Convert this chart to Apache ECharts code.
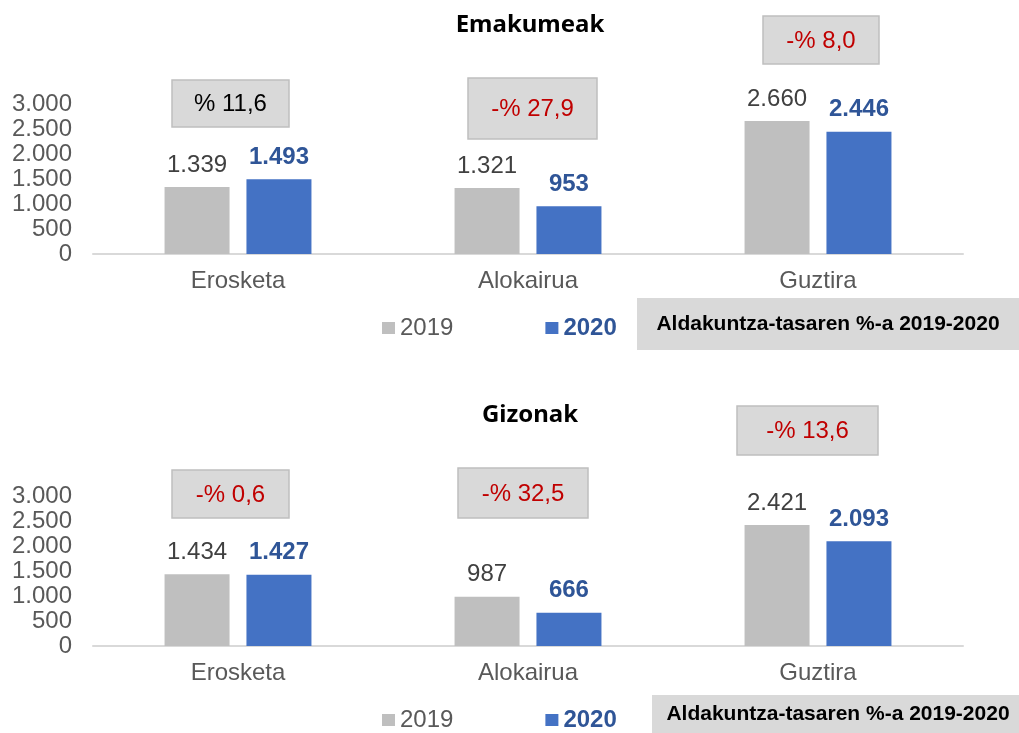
<!DOCTYPE html>
<html>
<head>
<meta charset="utf-8">
<script src="https://cdn.jsdelivr.net/npm/echarts@6/dist/echarts.min.js"></script>
<style>
  html, body { margin: 0; padding: 0; background: #fff; }
  #chart { width: 1019px; height: 733px; }
</style>
</head>
<body>
<div id="chart"></div>
<script>
// datos
const categories = ['Erosketa', 'Alokairua', 'Guztira'];
const women2019 = [1339, 1321, 2660];
const women2020 = [1493, 953, 2446];
const men2019 = [1434, 987, 2421];
const men2020 = [1427, 666, 2093];
const womenChange = [11.6, -27.9, -8.0];
const menChange = [-0.6, -32.5, -13.6];
const yTicks = [0, 500, 1000, 1500, 2000, 2500, 3000];

const FONT = '"Liberation Sans", Arial, sans-serif';

// cajas de variación: [x, y, w, h]
const womenBoxes = [[172, 80, 117, 47], [468, 78, 129, 61], [763, 16, 116, 48]];
const menBoxes = [[172, 470, 117, 48], [458, 468, 130, 50], [737, 406, 141, 49]];

const fmt = v => String(v).replace(/\B(?=(\d{3})+(?!\d))/g, '.');
const fmtPct = v => (v < 0 ? '-% ' : '% ') + Math.abs(v).toFixed(1).replace('.', ',');

function changeBoxes(boxes, values) {
    return boxes.map((b, i) => ({
        type: 'group',
        children: [
            {
                type: 'rect',
                shape: {x: b[0], y: b[1], width: b[2], height: b[3]},
                style: {fill: '#d9d9d9', stroke: '#bfbfbf', lineWidth: 1.5},
            },
            {
                type: 'text',
                x: b[0] + b[2] / 2,
                y: b[1] + b[3] / 2 + 1,
                style: {
                    text: fmtPct(values[i]),
                    fill: values[i] < 0 ? '#c00000' : '#000',
                    font: '24px ' + FONT,
                    align: 'center',
                    verticalAlign: 'middle',
                },
            },
        ],
    }));
}

function noteBox(x, y, w, h, tx) {
    return {
        type: 'group',
        children: [
            {type: 'rect', shape: {x: x, y: y, width: w, height: h}, style: {fill: '#d9d9d9'}},
            {
                type: 'text',
                x: tx,
                y: y + h / 2,
                style: {
                    text: 'Aldakuntza-tasaren %-a 2019-2020',
                    fill: '#000',
                    font: 'bold 21px "Liberation Sans Narrow", "Arial Narrow", ' + FONT,
                    align: 'center',
                    verticalAlign: 'middle',
                },
            },
        ],
    };
}

function titleText(text, y) {
    return {
        type: 'text', x: 530, y: y,
        style: {
            text: text, fill: '#000',
            font: 'bold 24px "Noto Sans", "Open Sans", sans-serif',
            align: 'center', verticalAlign: 'middle',
        },
    };
}

function xAxis(idx) {
    return {
        type: 'category', gridIndex: idx, data: categories,
        axisLine: {lineStyle: {color: '#d9d9d9', width: 2}},
        axisTick: {show: false},
        axisLabel: {color: '#595959', fontSize: 24, fontFamily: FONT, margin: 15},
    };
}

function yAxis(idx) {
    return {
        type: 'value', gridIndex: idx, min: 0, max: 3000, interval: 500,
        axisLine: {show: false}, axisTick: {show: false}, splitLine: {show: false},
        axisLabel: {color: '#595959', fontSize: 24, fontFamily: FONT, margin: 21, formatter: fmt},
    };
}

function barSeries(name, idx, data) {
    const is2020 = name === '2020';
    return {
        name: name, type: 'bar', xAxisIndex: idx, yAxisIndex: idx, data: data,
        barWidth: 65, barGap: '26%',
        itemStyle: {color: is2020 ? '#4472c4' : '#bfbfbf'},
        label: {
            show: true, position: 'top', distance: 10,
            formatter: p => fmt(p.value),
            color: is2020 ? '#2f5597' : '#404040',
            fontWeight: is2020 ? 'bold' : 'normal',
            fontSize: 24, fontFamily: FONT,
        },
    };
}

function legend(top) {
    return {
        left: 382, top: top, itemWidth: 13, itemHeight: 12, itemGap: 92, icon: 'rect',
        padding: 0,
        textStyle: {fontSize: 24, fontFamily: FONT, color: '#595959'},
        data: [
            {name: '2019'},
            {name: '2020', textStyle: {color: '#2f5597', fontWeight: 'bold'}},
        ],
        selectedMode: false,
    };
}

const chart = echarts.init(document.getElementById('chart'));
chart.setOption({
    animation: false,
    grid: [
        {left: 93, width: 870, top: 104, height: 150},
        {left: 93, width: 870, top: 496, height: 150},
    ],
    xAxis: [xAxis(0), xAxis(1)],
    yAxis: [yAxis(0), yAxis(1)],
    legend: [legend(316), legend(708)],
    series: [
        barSeries('2019', 0, women2019),
        barSeries('2020', 0, women2020),
        barSeries('2019', 1, men2019),
        barSeries('2020', 1, men2020),
    ],
    graphic: [
        titleText('Emakumeak', 25),
        titleText('Gizonak', 415),
        noteBox(637, 298, 382, 52, 828),
        noteBox(652, 695, 367, 38, 838),
    ].concat(changeBoxes(womenBoxes, womenChange), changeBoxes(menBoxes, menChange)),
});
</script>
</body>
</html>
